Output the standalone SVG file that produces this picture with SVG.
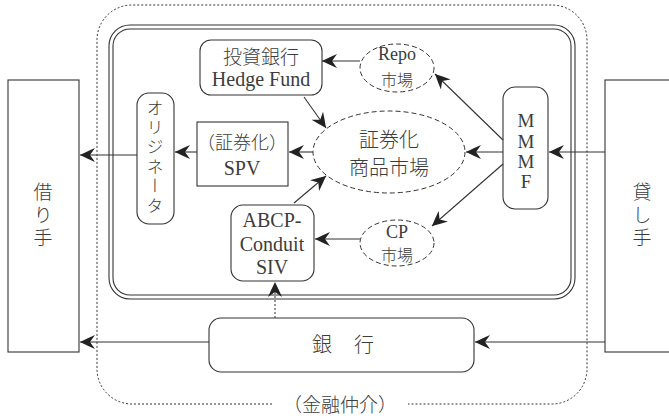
<svg xmlns="http://www.w3.org/2000/svg" width="669" height="418" viewBox="0 0 669 418">
<style>
.ln{fill:none;stroke:#333;stroke-width:1.1}
.bx{fill:#fff;stroke:#333;stroke-width:1.1}
.dash{fill:#fff;stroke:#333;stroke-width:1;stroke-dasharray:5 3}
.dot{fill:none;stroke:#333;stroke-width:1;stroke-dasharray:2 2}
.t{font-family:"Liberation Serif","Times New Roman","Noto Sans CJK JP",serif;font-weight:400;fill:#3c3c3c;text-anchor:middle}
.j{font-family:"Noto Sans CJK JP",sans-serif;fill:#3c3c3c;text-anchor:middle;font-weight:300}
.v{writing-mode:vertical-rl}
</style>
<defs>
<marker id="ah" viewBox="0 0 15 14" refX="15" refY="7" markerWidth="15" markerHeight="14" markerUnits="userSpaceOnUse" orient="auto">
<path d="M15,7 Q7,3 0,0 L5,7 L0,14 Q7,11 15,7 Z" fill="#222"/>
</marker>
</defs>
<rect width="669" height="418" fill="#fff"/>

<g id="intermediation">
<path class="dot" d="M272,404 H132 A35,35 0 0 1 97,369 V40 A35,35 0 0 1 132,5 H552 A35,35 0 0 1 587,40 V369 A35,35 0 0 1 552,404 H408"/>
<text class="j" x="340" y="412" font-size="19">（金融仲介）</text>
</g>

<g id="shadow-banking">
<rect class="ln" x="109" y="25" width="466" height="274" rx="21"/>
<rect class="ln" x="113" y="29" width="458" height="266" rx="17"/>
</g>

<g id="borrower">
<rect class="bx" x="8" y="80" width="71" height="272"/>
<text class="j v" x="43" y="217" font-size="19" style="letter-spacing:4px">借り手</text>
</g>

<g id="lender">
<rect class="bx" x="605" y="80" width="80" height="272"/>
<text class="j v" x="642" y="217" font-size="19" style="letter-spacing:4px">貸し手</text>
</g>

<g id="ibank">
<rect class="bx" x="200" y="40" width="122" height="55" rx="11"/>
<text class="j" x="261" y="64" font-size="19">投資銀行</text>
<text class="t" x="261" y="86" font-size="20">Hedge Fund</text>
</g>

<g id="repo">
<ellipse class="dash" cx="397" cy="68" rx="37" ry="24"/>
<text class="t" x="397" y="60" font-size="18">Repo</text>
<text class="j" x="397" y="86" font-size="16">市場</text>
</g>

<g id="mmmf">
<rect class="bx" x="503" y="87" width="45" height="122" rx="12"/>
<text class="t" x="526" y="127" font-size="19">M</text>
<text class="t" x="526" y="148" font-size="19">M</text>
<text class="t" x="526" y="168" font-size="19">M</text>
<text class="t" x="526" y="188" font-size="19">F</text>
</g>

<g id="market">
<ellipse class="dash" cx="389" cy="152" rx="76" ry="41"/>
<text class="j" x="389" y="147" font-size="20">証券化</text>
<text class="j" x="389" y="175" font-size="20">商品市場</text>
</g>

<g id="spv">
<rect class="bx" x="197" y="122" width="91" height="64"/>
<text class="j" x="242" y="149" font-size="18">（証券化）</text>
<text class="t" x="242" y="175" font-size="20">SPV</text>
</g>

<g id="originator">
<rect class="bx" x="137" y="93" width="37" height="131" rx="12"/>
<text class="j v" x="155" y="158" font-size="17" style="letter-spacing:2.5px">オリジネータ</text>
</g>

<g id="abcp">
<rect class="bx" x="231" y="205" width="83" height="76" rx="12"/>
<text class="t" x="272" y="227" font-size="20">ABCP-</text>
<text class="t" x="272" y="251" font-size="20">Conduit</text>
<text class="t" x="272" y="274" font-size="20">SIV</text>
</g>

<g id="cp">
<ellipse class="dash" cx="397" cy="243" rx="37" ry="23"/>
<text class="t" x="397" y="238" font-size="18">CP</text>
<text class="j" x="397" y="261" font-size="16">市場</text>
</g>

<g id="bank">
<rect class="bx" x="209" y="318" width="265" height="54" rx="12"/>
<text class="j" x="322" y="352" font-size="20">銀</text>
<text class="j" x="364" y="352" font-size="20">行</text>
</g>

<g id="connectors">
<line class="ln" x1="360" y1="61" x2="322" y2="61" marker-end="url(#ah)"/>
<line class="ln" x1="503" y1="140" x2="435" y2="74" marker-end="url(#ah)"/>
<line class="ln" x1="503" y1="152" x2="466" y2="152" marker-end="url(#ah)"/>
<line class="ln" x1="503" y1="164" x2="432" y2="226" marker-end="url(#ah)"/>
<line class="ln" x1="605" y1="152" x2="549" y2="152" marker-end="url(#ah)"/>
<line class="ln" x1="304" y1="97" x2="326" y2="128" marker-end="url(#ah)"/>
<line class="ln" x1="294" y1="203" x2="326" y2="176" marker-end="url(#ah)"/>
<line class="ln" x1="313" y1="152" x2="289" y2="152" marker-end="url(#ah)"/>
<line class="ln" x1="197" y1="152" x2="175" y2="152" marker-end="url(#ah)"/>
<line class="ln" x1="137" y1="155" x2="80" y2="155" marker-end="url(#ah)"/>
<line class="ln" x1="360" y1="239" x2="315" y2="239" marker-end="url(#ah)"/>
<line class="ln" x1="209" y1="342" x2="80" y2="342" marker-end="url(#ah)"/>
<line class="ln" x1="605" y1="342" x2="475" y2="342" marker-end="url(#ah)"/>
<line class="dot" x1="275" y1="318" x2="275" y2="282" marker-end="url(#ah)"/>
</g>
</svg>
